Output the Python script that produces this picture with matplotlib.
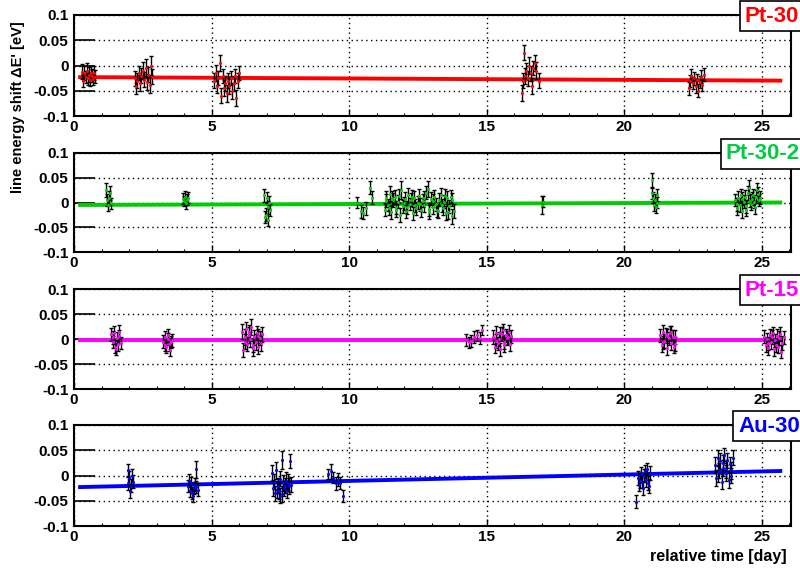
import matplotlib
matplotlib.use('Agg')
import matplotlib.pyplot as plt
from matplotlib.ticker import MultipleLocator

plt.rcParams['font.family'] = ['Liberation Sans', 'DejaVu Sans']
plt.rcParams['font.weight'] = 'bold'

# ---- Pt-30 ----
t_pt30 = [0.30, 0.34, 0.38, 0.42, 0.46, 0.50, 0.54, 0.58, 0.62, 0.66, 0.70, 0.74, 0.78,
          2.20, 2.25, 2.30, 2.35, 2.40, 2.45, 2.50, 2.55, 2.60, 2.65, 2.70, 2.75, 2.80, 2.85,
          5.10, 5.15, 5.20, 5.25, 5.30, 5.35, 5.40, 5.45, 5.50, 5.55, 5.60, 5.65, 5.70, 5.75,
          5.80, 5.85, 5.90, 5.95, 6.00,
          16.30, 16.33, 16.37, 16.40, 16.45, 16.50, 16.55, 16.60, 16.65, 16.70, 16.75, 16.80, 16.90,
          22.35, 22.40, 22.45, 22.50, 22.55, 22.60, 22.65, 22.70, 22.75, 22.80, 22.85, 22.90]
dE_pt30 = [-0.012, -0.030, -0.015, -0.022, -0.010, -0.025, -0.018, -0.028, -0.015, -0.020, -0.026, -0.014, -0.022,
           -0.025, -0.040, -0.030, -0.015, -0.035, -0.020, -0.010, -0.028, -0.005, -0.032, -0.018, -0.038, 0.000, -0.022,
           -0.030, -0.015, -0.040, -0.025, 0.005, -0.060, -0.020, -0.045, -0.035, -0.055, -0.030, -0.040, -0.025, -0.050,
           -0.035, -0.020, -0.065, -0.030, -0.015,
           -0.055, -0.030, 0.025, -0.020, -0.010, -0.025, 0.000, -0.015, -0.040, -0.005, 0.005, -0.010, -0.030,
           -0.045, -0.030, -0.020, -0.035, -0.025, -0.040, -0.028, -0.050, -0.032, -0.022, -0.038, -0.018]
err_pt30 = [0.014, 0.013, 0.014, 0.012, 0.014, 0.013, 0.015, 0.012, 0.014, 0.013, 0.012, 0.014, 0.013,
            0.015, 0.016, 0.015, 0.014, 0.016, 0.015, 0.016, 0.015, 0.017, 0.016, 0.015, 0.016, 0.018, 0.015,
            0.015, 0.016, 0.015, 0.014, 0.016, 0.015, 0.014, 0.016, 0.015, 0.017, 0.015, 0.016, 0.014, 0.016,
            0.015, 0.014, 0.016, 0.015, 0.014,
            0.016, 0.015, 0.015, 0.016, 0.014, 0.015, 0.016, 0.015, 0.016, 0.014, 0.015, 0.016, 0.015,
            0.013, 0.012, 0.013, 0.012, 0.013, 0.014, 0.012, 0.013, 0.012, 0.013, 0.012, 0.013]
fit_pt30 = [-0.023, -0.030]

# ---- Pt-30-2 ----
t_pt302 = [1.15, 1.20, 1.24, 1.28, 1.32, 1.36,
           3.98, 4.01, 4.04, 4.07, 4.10, 4.13,
           6.92, 6.95, 6.98, 7.01, 7.04, 7.07, 7.10, 7.13,
           10.28, 10.42, 10.50, 10.62, 10.76, 10.85,
           11.30, 11.36, 11.42, 11.48, 11.54, 11.60, 11.66, 11.72, 11.78, 11.84, 11.90, 11.96,
           12.02, 12.08, 12.14, 12.20, 12.26, 12.32, 12.38, 12.44, 12.50, 12.56, 12.62, 12.68,
           12.74, 12.80, 12.86, 12.92, 12.98, 13.04, 13.10, 13.16, 13.22, 13.28, 13.34, 13.40,
           13.46, 13.52, 13.58, 13.64, 13.70, 13.76, 13.82,
           11.33, 11.45, 11.57, 11.69, 11.81, 11.99, 12.11, 12.29, 12.41, 12.59, 12.71, 12.89,
           13.07, 13.19, 13.37, 13.49, 13.61, 13.73,
           17.03, 17.06,
           21.00, 21.03, 21.06, 21.09, 21.12, 21.15, 21.18, 21.21,
           24.05, 24.10, 24.15, 24.20, 24.25, 24.30, 24.35, 24.40, 24.45, 24.50, 24.55, 24.60,
           24.65, 24.70, 24.75, 24.80, 24.85, 24.90, 24.95,
           24.12, 24.28, 24.42, 24.58, 24.72, 24.88]
dE_pt302 = [0.025, 0.005, -0.005, 0.010, 0.020, -0.002,
            0.008, 0.003, 0.012, -0.002, 0.006, 0.010,
            0.015, -0.030, -0.025, 0.010, -0.010, -0.035, 0.000, -0.015,
            0.000, -0.018, -0.022, -0.012, 0.030, 0.010,
            -0.015, 0.010, -0.005, 0.018, -0.020, 0.005, 0.012, -0.010, 0.002, -0.025, 0.025, -0.008,
            0.008, -0.018, 0.015, -0.003, 0.006, -0.022, 0.010, -0.012, 0.000, 0.014, -0.016, 0.004,
            -0.006, 0.020, 0.028, -0.020, 0.008, -0.010, 0.012, -0.004, -0.018, 0.006, 0.016, -0.012,
            0.002, -0.022, 0.010, -0.008, 0.012, -0.028, -0.018,
            0.004, -0.012, 0.009, -0.016, 0.014, -0.002, -0.010, 0.012, -0.006, -0.004, 0.010, -0.014,
            0.004, -0.016, -0.006, 0.014, -0.020, 0.006,
            -0.005, 0.002,
            0.045, 0.020, 0.010, -0.005, 0.005, -0.010, 0.015, 0.000,
            0.005, -0.012, 0.010, -0.005, 0.015, -0.018, 0.002, 0.012, -0.008, 0.020, 0.030, -0.003,
            0.008, 0.015, -0.010, 0.012, 0.025, 0.005, 0.010,
            -0.004, 0.008, -0.015, 0.004, 0.002, 0.018]
err_pt302 = [0.014, 0.013, 0.012, 0.013, 0.014, 0.012,
             0.012, 0.011, 0.012, 0.011, 0.012, 0.011,
             0.013, 0.012, 0.013, 0.012, 0.013, 0.012, 0.013, 0.012,
             0.012, 0.013, 0.012, 0.014, 0.013, 0.013,
             0.013, 0.014, 0.013, 0.015, 0.013, 0.014, 0.013, 0.014, 0.013, 0.014, 0.018, 0.013,
             0.014, 0.013, 0.015, 0.013, 0.014, 0.013, 0.014, 0.013, 0.014, 0.013, 0.014, 0.013,
             0.014, 0.013, 0.016, 0.014, 0.013, 0.014, 0.013, 0.014, 0.013, 0.014, 0.013, 0.014,
             0.013, 0.014, 0.013, 0.014, 0.013, 0.015, 0.014,
             0.014, 0.013, 0.014, 0.013, 0.014, 0.013, 0.014, 0.013, 0.014, 0.013, 0.014, 0.013,
             0.014, 0.013, 0.014, 0.013, 0.014, 0.013,
             0.018, 0.012,
             0.015, 0.012, 0.012, 0.012, 0.012, 0.012, 0.012, 0.011,
             0.013, 0.014, 0.013, 0.014, 0.013, 0.014, 0.013, 0.014, 0.013, 0.014, 0.015, 0.013,
             0.014, 0.013, 0.014, 0.013, 0.014, 0.013, 0.014,
             0.013, 0.014, 0.013, 0.014, 0.013, 0.014]
fit_pt302 = [-0.005, 0.000]

# ---- Pt-15 ----
t_pt15 = [1.35, 1.40, 1.45, 1.50, 1.55, 1.60, 1.65, 1.70, 1.42, 1.52, 1.62,
          3.25, 3.30, 3.35, 3.40, 3.45, 3.50, 3.55, 3.32, 3.42, 3.52,
          6.10, 6.15, 6.20, 6.25, 6.30, 6.35, 6.40, 6.45, 6.50, 6.55, 6.60, 6.65, 6.70, 6.75, 6.80, 6.85,
          6.22, 6.38, 6.52, 6.68,
          14.25, 14.35, 14.45, 14.55, 14.65, 14.75, 14.85,
          15.25, 15.30, 15.35, 15.40, 15.45, 15.50, 15.55, 15.60, 15.65, 15.70, 15.75, 15.80, 15.85, 15.90,
          15.33, 15.48, 15.62, 15.78,
          21.32, 21.37, 21.42, 21.47, 21.52, 21.57, 21.62, 21.67, 21.72, 21.77, 21.82, 21.87,
          21.40, 21.55, 21.70, 21.85,
          25.10, 25.15, 25.20, 25.25, 25.30, 25.35, 25.40, 25.45, 25.50, 25.55, 25.60, 25.65, 25.70, 25.75, 25.80,
          25.22, 25.38, 25.52, 25.68]
dE_pt15 = [0.010, -0.005, 0.012, -0.015, 0.002, -0.010, 0.015, -0.008, 0.004, -0.020, 0.006,
           -0.005, 0.005, -0.015, 0.000, -0.010, -0.022, -0.002, -0.012, 0.008, -0.006,
           0.015, -0.022, 0.005, 0.020, -0.010, 0.008, 0.000, 0.025, -0.012, 0.004, -0.006, 0.012, -0.015, 0.002, -0.008, 0.010,
           -0.005, 0.014, -0.018, 0.006,
           -0.002, -0.006, -0.003, 0.004, 0.008, 0.003, 0.018,
           0.005, -0.015, 0.012, -0.008, 0.000, -0.020, 0.010, 0.018, -0.005, 0.008, 0.002, 0.015, -0.010, 0.006,
           -0.004, 0.012, -0.012, 0.004,
           0.008, -0.012, 0.015, -0.004, 0.010, -0.018, 0.002, 0.012, -0.008, 0.005, -0.015, 0.004,
           -0.006, 0.006, 0.014, -0.010,
           0.005, -0.012, 0.000, -0.018, 0.008, -0.005, 0.012, -0.020, -0.002, 0.006, -0.015, 0.002, -0.025, -0.008, 0.004,
           -0.008, 0.004, -0.012, 0.010]
err_pt15 = [0.013, 0.012, 0.014, 0.013, 0.012, 0.013, 0.014, 0.012, 0.013, 0.012, 0.013,
            0.013, 0.012, 0.013, 0.012, 0.013, 0.012, 0.013, 0.012, 0.013, 0.012,
            0.015, 0.014, 0.016, 0.015, 0.014, 0.016, 0.015, 0.016, 0.014, 0.015, 0.016, 0.014, 0.015, 0.014, 0.016, 0.015,
            0.015, 0.014, 0.015, 0.014,
            0.012, 0.011, 0.012, 0.012, 0.011, 0.012, 0.010,
            0.014, 0.013, 0.015, 0.013, 0.014, 0.013, 0.014, 0.013, 0.014, 0.013, 0.014, 0.013, 0.014, 0.013,
            0.014, 0.013, 0.014, 0.013,
            0.013, 0.014, 0.013, 0.014, 0.013, 0.014, 0.013, 0.014, 0.013, 0.014, 0.013, 0.014,
            0.013, 0.014, 0.013, 0.014,
            0.013, 0.014, 0.013, 0.014, 0.013, 0.014, 0.013, 0.014, 0.013, 0.014, 0.013, 0.014, 0.013, 0.014, 0.013,
            0.013, 0.014, 0.013, 0.014]
fit_pt15 = [-0.001, -0.001]

# ---- Au-30 ----
t_au30 = [1.95, 1.98, 2.01, 2.04, 2.07, 2.10, 2.13,
          4.15, 4.18, 4.20, 4.25, 4.30, 4.33, 4.35, 4.40, 4.42, 4.45, 4.50,
          7.20, 7.25, 7.30, 7.35, 7.40, 7.45, 7.50, 7.55, 7.60, 7.65, 7.70, 7.75, 7.80, 7.85, 7.90,
          7.28, 7.38, 7.48, 7.58, 7.68, 7.78,
          9.22, 9.33, 9.42, 9.52, 9.60, 9.68, 9.78,
          20.45, 20.50, 20.55, 20.60, 20.65, 20.70, 20.75, 20.80, 20.85, 20.90, 20.95,
          20.58, 20.72, 20.88,
          23.30, 23.35, 23.40, 23.45, 23.50, 23.55, 23.60, 23.65, 23.70, 23.75, 23.80, 23.85, 23.90, 23.95,
          23.42, 23.58, 23.72, 23.88]
dE_au30 = [0.010, -0.015, -0.005, -0.030, -0.020, 0.000, -0.012,
           -0.020, -0.010, -0.030, -0.015, -0.035, -0.040, -0.025, -0.018, -0.022, 0.012, -0.028,
           0.005, -0.025, -0.035, 0.010, -0.020, -0.030, -0.040, 0.030, -0.015, -0.025, -0.010, -0.030, -0.020, 0.028, -0.018,
           -0.012, -0.028, -0.006, -0.036, -0.020, -0.014,
           0.003, 0.008, -0.004, -0.015, -0.008, -0.014, -0.040,
           -0.052, -0.005, -0.018, 0.002, -0.012, -0.025, 0.008, -0.008, 0.012, -0.020, 0.005,
           -0.010, 0.000, -0.015,
           0.020, -0.005, 0.035, 0.010, 0.028, -0.012, 0.015, 0.040, 0.005, 0.030, -0.008, 0.022, 0.010, 0.035,
           0.004, 0.025, 0.012, 0.000]
err_au30 = [0.013, 0.014, 0.013, 0.014, 0.013, 0.012, 0.013,
            0.012, 0.013, 0.012, 0.013, 0.012, 0.013, 0.012, 0.013, 0.012, 0.016, 0.013,
            0.015, 0.016, 0.015, 0.016, 0.015, 0.016, 0.015, 0.018, 0.016, 0.015, 0.016, 0.015, 0.016, 0.014, 0.015,
            0.015, 0.016, 0.015, 0.016, 0.015, 0.016,
            0.010, 0.014, 0.010, 0.013, 0.012, 0.012, 0.012,
            0.013, 0.014, 0.013, 0.014, 0.013, 0.014, 0.013, 0.014, 0.013, 0.014, 0.013,
            0.014, 0.013, 0.014,
            0.016, 0.015, 0.016, 0.015, 0.016, 0.015, 0.016, 0.015, 0.016, 0.015, 0.016, 0.015, 0.016, 0.015,
            0.016, 0.015, 0.016, 0.015]
fit_au30 = [-0.023, 0.009]

fit_t = [0.15, 25.75]
names = ['Pt-30', 'Pt-30-2', 'Pt-15', 'Au-30']
colors = ['#ff0000', '#00cc00', '#ff00ff', '#0000ff']
label_colors = ['#ff0000', '#00cc44', '#ff00ff', '#0000ff']
datasets = [(t_pt30, dE_pt30, err_pt30, fit_pt30),
            (t_pt302, dE_pt302, err_pt302, fit_pt302),
            (t_pt15, dE_pt15, err_pt15, fit_pt15),
            (t_au30, dE_au30, err_au30, fit_au30)]

W, H = 800, 572
fig = plt.figure(figsize=(8, 5.72), dpi=100)
left, right = 74, 791
tops = [15, 153, 289, 425]
bottoms = [116, 252, 389, 526]
label_cx = [772, 763, 772, 769]

for i, (t, dE, err, fit) in enumerate(datasets):
    ax = fig.add_axes([left / W, 1 - bottoms[i] / H, (right - left) / W, (bottoms[i] - tops[i]) / H])
    ax.plot(fit_t, fit, color=colors[i], lw=2.8, solid_capstyle='butt', zorder=2)
    ax.errorbar(t, dE, yerr=err, fmt='o', ms=1.2, mfc=colors[i], mec=colors[i],
                ecolor='black', elinewidth=1.0, capsize=1.5, capthick=1.0, zorder=3)
    ax.set_xlim(0, 26.07)
    ax.set_ylim(-0.1, 0.1)
    ax.xaxis.set_major_locator(MultipleLocator(5))
    ax.xaxis.set_minor_locator(MultipleLocator(1))
    ax.set_yticks([-0.1, -0.05, 0, 0.05, 0.1])
    ax.set_yticklabels(['-0.1', '-0.05', '0', '0.05', '0.1'])
    ax.grid(True, which='major', color='black', ls=(0, (1, 2.5)), lw=1.0)
    ax.tick_params(axis='y', which='major', direction='in', length=15, width=1.2,
                   labelsize=11, pad=4)
    ax.tick_params(axis='x', which='major', direction='in', length=5, width=1.0,
                   labelsize=11, pad=3)
    ax.tick_params(axis='x', which='minor', direction='in', length=2.5, width=0.8)
    for lab in ax.get_xticklabels() + ax.get_yticklabels():
        lab.set_fontweight('bold')
    for sp in ax.spines.values():
        sp.set_linewidth(1.5)
    fig.text(label_cx[i] / W, 1 - (tops[i] + 1) / H, names[i], color=label_colors[i],
             fontsize=16, fontweight='bold', ha='center', va='center',
             bbox=dict(boxstyle='square,pad=0.22', fc='white', ec='black', lw=1.2))

fig.text(18 / W, 1 - 107 / H, "line energy shift \u0394E' [eV]", rotation=90,
         ha='center', va='center', fontsize=10.5, fontweight='bold')
fig.text(787 / W, 1 - 557 / H, 'relative time [day]', ha='right', va='center',
         fontsize=11.5, fontweight='bold')

fig.savefig('out.png', dpi=100)
